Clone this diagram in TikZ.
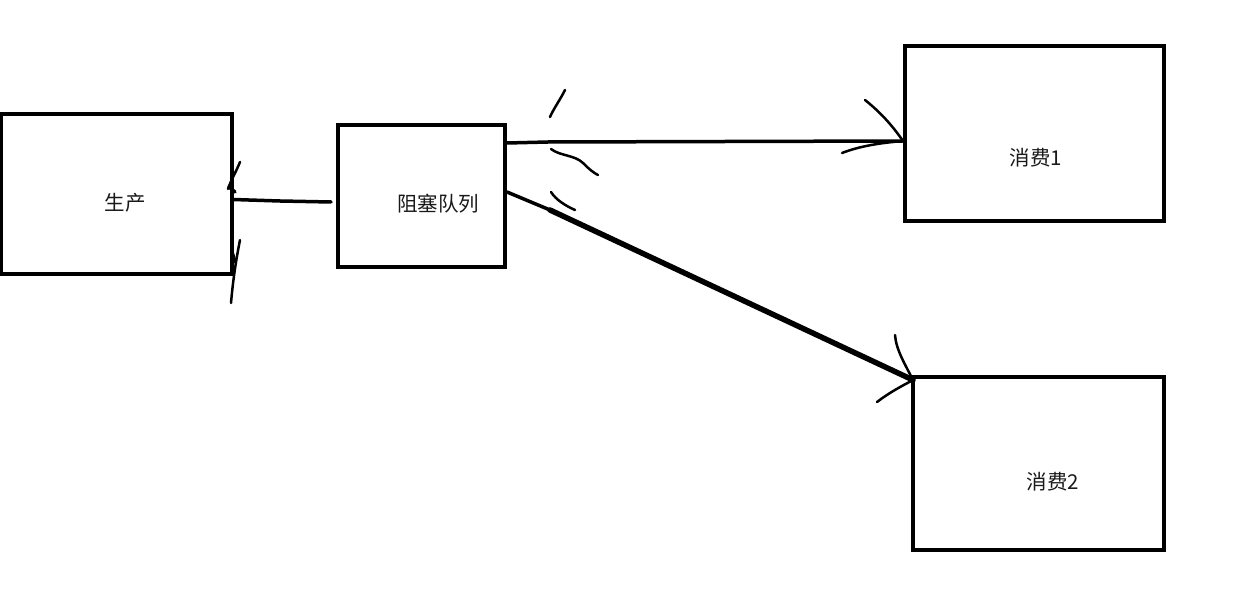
\documentclass[tikz,border=0pt]{standalone}
\usepackage{fontspec}
\newfontfamily\cjk{Noto Sans CJK SC}
\begin{document}
\begin{tikzpicture}[x=1pt,y=-1pt,
  box/.style={draw=black,line width=4pt,inner sep=0pt,outer sep=0pt},
  lbl/.style={font=\cjk\fontsize{20.5}{24}\selectfont,inner sep=0pt,text=black!90},
  conn/.style={line width=3.5pt,line cap=round,line join=round},
  stroke/.style={line width=2.5pt,line cap=round}]
\useasboundingbox (0,0) rectangle (1260,612);
% boxes
\node[box,minimum width=231pt,minimum height=160pt] (p) at (116.5,194) {};
\node[box,minimum width=167pt,minimum height=142pt] (q) at (421.5,196) {};
\node[box,minimum width=259pt,minimum height=175pt] (c1) at (1034.5,133.5) {};
\node[box,minimum width=251pt,minimum height=173pt] (c2) at (1038.5,463.5) {};
% labels
\node[lbl] (pl) at (125,203) {生产};
\node[lbl] (ql) at (438,204) {阻塞队列};
\node[lbl] (c1l) at (1036,158) {消费1};
\node[lbl] (c2l) at (1053,482) {消费2};
% connector points
\coordinate (qo) at (331,202);
\coordinate (pin) at (233,199.5);
\coordinate (q1) at (507,143);
\coordinate (c1in) at (903,141);
\coordinate (q2) at (507,192);
\coordinate (c2in) at (913,380);
% queue -> producer
\draw[conn] (qo) -- (280,201) -- (pin);
\draw[stroke] (240,162) .. controls (236,172) and (231,180) .. (228,189);
\draw[line width=3.5pt,line cap=round] (229,187) -- (235,192);
\draw[stroke] (240,240) .. controls (236,260) and (233,280) .. (231,303);
\draw[line width=3.5pt,line cap=round] (232,252) -- (235,262);
% queue -> consumer 1
\draw[conn] (q1) -- (548,142) -- (c1in);
\draw[stroke] (865,100) .. controls (880,112) and (892,125) .. (c1in);
\draw[stroke] (842,153) .. controls (860,146) and (880,143) .. (c1in);
% queue -> consumer 2
\draw[conn] (q2) -- (550,210);
\draw[line width=5.5pt,line cap=round] (550,210) -- (c2in);
\draw[stroke] (895,335) .. controls (896,350) and (906,366) .. (c2in);
\draw[stroke] (877,402) .. controls (890,392) and (902,386) .. (c2in);
% squiggles near queue
\draw[stroke] (565,90) .. controls (560,100) and (554,108) .. (550,117);
\draw[stroke] (551,149) .. controls (560,156) and (575,155) .. (583,163) .. controls (590,170) and (594,173) .. (598,175);
\draw[stroke] (551,192) .. controls (556,200) and (566,206) .. (575,210);
\end{tikzpicture}
\end{document}
